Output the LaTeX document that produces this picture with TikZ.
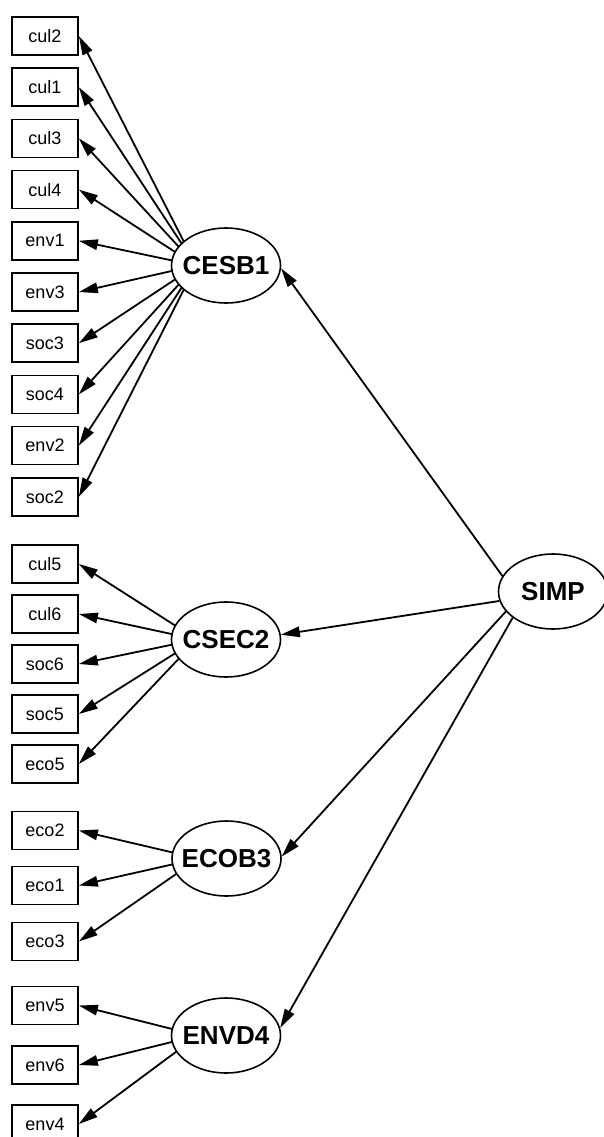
\documentclass[tikz,border=0pt]{standalone}
\usepackage{fontspec}
\setmainfont{Liberation Sans}
\usetikzlibrary{shapes.geometric,arrows.meta,backgrounds}
\begin{document}
\begin{tikzpicture}[x=1pt,y=-1pt,
  obs/.style={draw,line width=1.7pt,minimum width=66pt,minimum height=38pt,inner sep=0pt,fill=white,font=\fontsize{18}{20}\selectfont},
  lat/.style={draw,ellipse,line width=1.6pt,minimum width=109pt,minimum height=75pt,inner sep=0pt,fill=white},
  lbl/.style={font=\fontsize{26}{28}\selectfont\bfseries},
  conn/.style={line width=1.8pt,-{Triangle[length=19pt,width=10.5pt]}}]
\useasboundingbox (0,0) rectangle (603,1137);
% observed
\foreach \n/\y in {cul2/36,cul1/87.2,cul3/138.4,cul4/189.6,env1/240.8,env3/292,soc3/343.2,soc4/394.4,env2/445.6,soc2/496.8,
  cul5/564,cul6/614,soc6/664,soc5/714,eco5/764,
  eco2/830.5,eco1/885.5,eco3/941.5,
  env5/1005.5,env6/1065,env4/1124}
  \node[obs] (\n) at (45,\y) {\n};
% latent
\node[lat,label={[lbl]center:CESB1}] (CESB1) at (226,265.5) {};
\node[lat,label={[lbl]center:CSEC2}] (CSEC2) at (226,639.5) {};
\node[lat,label={[lbl]center:ECOB3}] (ECOB3) at (226.5,858.5) {};
\node[lat,label={[lbl]center:ENVD4}] (ENVD4) at (226,1035.5) {};
\node[lat,label={[lbl]center:SIMP}] (SIMP) at (553,591.5) {};
\coordinate (a1) at ([xshift=-30pt]CESB1.center);
\coordinate (a2) at ([xshift=-29pt]CSEC2.center);
\coordinate (a3) at ([xshift=-28pt]ECOB3.center);
\coordinate (a4) at ([xshift=-28pt]ENVD4.center);
\begin{scope}[on background layer]
\foreach \n in {cul2,cul1,cul3,cul4,env1,env3,soc3,soc4,env2,soc2}
  \draw[conn] (a1) -- (\n.east);
\foreach \n in {cul5,cul6,soc6,soc5,eco5}
  \draw[conn] (a2) -- (\n.east);
\foreach \n in {eco2,eco1,eco3}
  \draw[conn] (a3) -- (\n.east);
\foreach \n in {env5,env6,env4}
  \draw[conn] (a4) -- (\n.east);
\end{scope}
\draw[conn] (SIMP.163.8) -- (CESB1.357);
\draw[conn] (SIMP.190.9) -- (CSEC2.5);
\draw[conn] (SIMP.203.6) -- (ECOB3.2);
\draw[conn] (SIMP.213) -- (ENVD4.8);
\end{tikzpicture}
\end{document}
